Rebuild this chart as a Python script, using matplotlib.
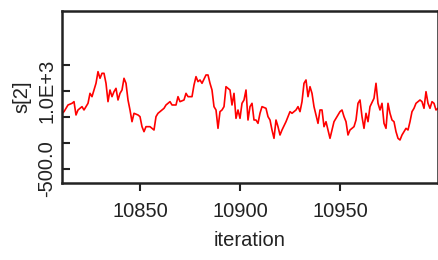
import matplotlib
matplotlib.use("Agg")
import matplotlib.pyplot as plt

iterations = [10811, 10812, 10814, 10816, 10817, 10818, 10819, 10821, 10822, 10824,
              10825, 10826, 10827, 10828, 10829, 10830, 10831, 10832, 10833, 10834,
              10835, 10836, 10837, 10838, 10839, 10840, 10841, 10842, 10843, 10844,
              10845, 10846, 10847, 10849, 10850, 10851, 10852, 10853, 10855, 10857,
              10858, 10859, 10861, 10862, 10863, 10865, 10866, 10868, 10869, 10870,
              10872, 10873, 10874, 10875, 10876, 10877, 10878, 10879, 10880, 10881,
              10883, 10884, 10885, 10886, 10887, 10888, 10889, 10890, 10891, 10892,
              10893, 10895, 10896, 10897, 10898, 10899, 10900, 10901, 10902, 10903,
              10904, 10905, 10906, 10907, 10908, 10909, 10910, 10911, 10913, 10914,
              10915, 10916, 10917, 10918, 10919, 10920, 10921, 10923, 10924, 10925,
              10926, 10928, 10929, 10930, 10931, 10932, 10933, 10934, 10935, 10936,
              10937, 10938, 10939, 10940, 10941, 10942, 10943, 10944, 10945, 10947,
              10948, 10949, 10950, 10951, 10952, 10953, 10954, 10955, 10957, 10958,
              10959, 10960, 10961, 10962, 10963, 10964, 10965, 10967, 10968, 10969,
              10970, 10971, 10972, 10973, 10974, 10975, 10976, 10977, 10978, 10979,
              10980, 10981, 10983, 10984, 10985, 10986, 10987, 10988, 10990, 10991,
              10992, 10993, 10994, 10995, 10996, 10997, 10998, 10999]

s2_values = [571, 603, 731, 763, 795, 539, 635, 699, 635, 763,
             955, 891, 1019, 1148, 1372, 1244, 1340, 1340, 1148, 795,
             1019, 891, 987, 1051, 827, 955, 1019, 1244, 1148, 827,
             635, 410, 571, 539, 507, 314, 218, 314, 314, 250,
             507, 571, 635, 667, 731, 795, 731, 731, 891, 795,
             827, 955, 891, 891, 891, 1115, 1276, 1180, 1212, 1148,
             1308, 1308, 1148, 1019, 699, 635, 282, 603, 635, 699,
             1083, 1019, 731, 955, 474, 635, 474, 763, 827, 1019,
             442, 699, 763, 442, 442, 378, 571, 699, 667, 507,
             442, 250, 90, 442, 314, 154, 250, 410, 507, 603,
             571, 635, 699, 603, 795, 1148, 1212, 891, 1083, 955,
             699, 539, 378, 635, 635, 314, 410, 250, 90, 410,
             474, 539, 603, 635, 507, 410, 154, 250, 314, 442,
             763, 827, 507, 282, 571, 410, 699, 859, 1148, 763,
             635, 763, 378, 282, 763, 571, 442, 410, 218, 90,
             58, 154, 282, 250, 410, 603, 667, 763, 827, 795,
             667, 987, 763, 667, 795, 763, 635, 667]

ytick_vals = [-500, 0, 500, 1000, 1500]
ytick_labels = ["-500.0", "", "", "1.0E+3", ""]
xtick_vals = [10850, 10900, 10950]
xtick_labels = ["10850", "10900", "10950"]

plt.rcParams['font.family'] = ['Liberation Sans', 'DejaVu Sans']

fig = plt.figure(figsize=(4.39, 2.60), dpi=100)
ax = fig.add_axes([62/439, 1 - 183/260, 376/439, 172/260])
ax.plot(iterations, s2_values, color='#ff0000', linewidth=1.2)
ax.set_xlim(10811, 10999)
ax.set_ylim(-769, 2538)

ax.set_xticks(xtick_vals)
ax.set_xticklabels(xtick_labels)
ax.set_yticks(ytick_vals)
ax.set_yticklabels(ytick_labels, rotation=90, va='center')

ax.tick_params(axis='x', direction='out', length=6, width=1.5, labelsize=14.5, pad=8, colors='#222222')
ax.tick_params(axis='y', direction='in', length=6, width=1.5, labelsize=14.5, pad=4, colors='#222222')
for sp in ax.spines.values():
    sp.set_linewidth(1.8)
    sp.set_color('#222222')

ax.set_xlabel("iteration", fontsize=14.5, labelpad=7, color='#222222')
ax.set_ylabel("s[2]", fontsize=14.5, labelpad=4, color='#222222')

fig.savefig("out.png", dpi=100)
